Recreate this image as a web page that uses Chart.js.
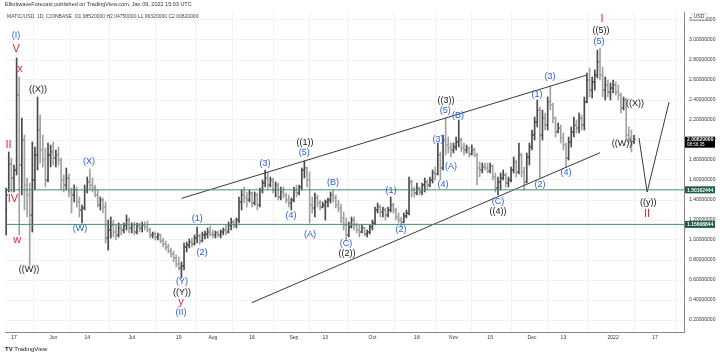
<!DOCTYPE html>
<html><head><meta charset="utf-8">
<script src="https://cdn.jsdelivr.net/npm/chart.js@4/dist/chart.umd.min.js"></script>
<style>
html,body{margin:0;padding:0;background:#fff;width:720px;height:357px;overflow:hidden;font-family:'Liberation Sans',Arial,sans-serif}
#wrap{position:relative;width:720px;height:357px}
#c{position:absolute;left:0;top:0}
#h1{position:absolute;left:5px;top:1px;font-size:5.5px;color:#333;white-space:nowrap}
#h2{position:absolute;left:7px;top:13px;font-size:5px;color:#444;white-space:nowrap}
#ft{position:absolute;left:5px;top:346px;font-size:6px;color:#222;white-space:nowrap}
</style></head>
<body><div id="wrap">
<canvas id="c" width="720" height="357"></canvas>
<div id="h1">ElliottwaveForecast published on TradingView.com, Jan 09, 2022 15:03 UTC</div>
<div id="h2">MATIC/USD, 1D, COINBASE&nbsp; O1.98520000 H2.04750000 L1.96320000 C2.00820000</div>
<div id="ft"><b>TV</b> TradingView</div>
</div>
<script>
// day index 0 = 17 May 2021; first bar is day -3 (14 May 2021)
const firstDay = -3;
// [open, high, low, close] per daily bar
const ohlc = [
[1.30,1.52,1.05,1.45],[1.50,1.88,1.48,1.76],[1.76,1.82,1.48,1.62],[1.62,1.75,1.48,1.70],
[1.70,2.82,1.65,2.45],[2.45,2.63,1.05,1.75],[1.75,2.22,1.45,2.00],[2.00,2.05,1.30,1.55],
[1.55,1.62,1.23,1.45],[1.45,1.57,0.75,1.25],[1.25,1.98,1.08,1.60],[1.60,1.93,1.50,1.85],
[1.85,2.43,1.70,2.10],[2.10,2.25,1.77,1.90],[1.90,2.05,1.73,1.80],[1.80,1.92,1.53,1.60],
[1.60,1.97,1.58,1.85],[1.85,1.95,1.73,1.88],[1.88,1.98,1.75,1.82],[1.82,1.90,1.73,1.85],
[1.85,1.93,1.75,1.80],[1.80,1.82,1.50,1.60],[1.60,1.65,1.48,1.55],[1.55,1.72,1.50,1.62],
[1.62,1.66,1.43,1.48],[1.48,1.52,1.27,1.45],[1.45,1.55,1.38,1.50],[1.50,1.53,1.33,1.38],
[1.38,1.43,1.23,1.30],[1.30,1.35,1.17,1.32],[1.32,1.55,1.30,1.50],[1.50,1.63,1.47,1.58],
[1.58,1.71,1.50,1.55],[1.55,1.62,1.48,1.52],[1.52,1.55,1.43,1.45],[1.45,1.50,1.33,1.35],
[1.35,1.43,1.30,1.40],[1.40,1.42,1.27,1.33],[1.33,1.38,0.97,1.02],[1.02,1.20,0.90,1.10],
[1.10,1.23,1.02,1.15],[1.15,1.20,1.03,1.08],[1.08,1.15,1.00,1.05],[1.05,1.17,1.03,1.12],
[1.12,1.15,1.05,1.10],[1.10,1.17,1.07,1.15],[1.15,1.25,1.10,1.20],[1.20,1.22,1.07,1.12],
[1.12,1.17,1.07,1.15],[1.15,1.18,1.05,1.08],[1.08,1.17,1.06,1.14],[1.14,1.17,1.08,1.12],
[1.12,1.18,1.08,1.15],[1.15,1.18,1.10,1.13],[1.13,1.19,1.08,1.10],[1.10,1.12,1.02,1.05],
[1.05,1.08,1.02,1.06],[1.06,1.08,1.00,1.03],[1.03,1.07,1.00,1.05],[1.05,1.06,0.97,0.99],
[0.99,1.02,0.93,0.96],[0.96,0.99,0.90,0.93],[0.93,0.96,0.87,0.89],[0.89,0.92,0.83,0.86],
[0.86,0.89,0.78,0.82],[0.82,0.85,0.73,0.76],[0.76,0.83,0.70,0.72],[0.72,0.78,0.62,0.74],
[0.74,0.97,0.70,0.93],[0.93,0.98,0.88,0.95],[0.95,1.01,0.92,0.98],[0.98,1.02,0.93,0.96],
[0.96,1.05,0.95,1.02],[1.02,1.13,0.97,1.04],[1.04,1.06,0.96,0.99],[0.99,1.08,0.98,1.05],
[1.05,1.09,1.01,1.06],[1.06,1.12,1.02,1.08],[1.08,1.14,1.04,1.06],[1.06,1.10,1.02,1.05],
[1.05,1.09,1.02,1.07],[1.07,1.09,1.03,1.05],[1.05,1.10,1.02,1.08],[1.08,1.12,1.05,1.10],
[1.10,1.15,1.05,1.08],[1.08,1.18,1.07,1.15],[1.15,1.22,1.10,1.18],[1.18,1.20,1.12,1.15],
[1.15,1.22,1.12,1.20],[1.20,1.43,1.17,1.38],[1.38,1.50,1.30,1.45],[1.45,1.53,1.37,1.42],
[1.42,1.48,1.33,1.40],[1.40,1.50,1.38,1.47],[1.47,1.48,1.33,1.37],[1.37,1.48,1.35,1.45],
[1.45,1.47,1.30,1.35],[1.35,1.52,1.33,1.50],[1.50,1.60,1.47,1.57],[1.57,1.70,1.53,1.62],
[1.62,1.67,1.50,1.55],[1.55,1.63,1.53,1.60],[1.60,1.62,1.47,1.50],[1.50,1.58,1.43,1.55],
[1.55,1.57,1.40,1.43],[1.43,1.53,1.40,1.48],[1.48,1.53,1.42,1.45],[1.45,1.47,1.37,1.40],
[1.40,1.45,1.33,1.37],[1.37,1.42,1.30,1.40],[1.40,1.53,1.38,1.50],[1.50,1.55,1.43,1.47],
[1.47,1.55,1.45,1.53],[1.53,1.72,1.50,1.70],[1.70,1.79,1.62,1.72],[1.72,1.73,1.53,1.60],
[1.60,1.68,1.17,1.35],[1.35,1.43,1.27,1.32],[1.32,1.47,1.23,1.42],[1.42,1.45,1.33,1.37],
[1.37,1.40,1.30,1.33],[1.33,1.38,1.32,1.35],[1.35,1.40,1.20,1.38],[1.38,1.42,1.33,1.40],
[1.40,1.48,1.37,1.45],[1.45,1.50,1.38,1.42],[1.42,1.45,1.32,1.35],[1.35,1.40,1.28,1.32],
[1.32,1.36,1.17,1.22],[1.22,1.28,1.10,1.15],[1.15,1.22,1.00,1.05],[1.05,1.18,1.03,1.13],
[1.13,1.23,1.12,1.20],[1.20,1.23,1.10,1.15],[1.15,1.17,1.07,1.10],[1.10,1.15,1.03,1.08],
[1.08,1.15,1.07,1.12],[1.12,1.13,1.04,1.06],[1.06,1.10,1.03,1.08],[1.08,1.15,1.06,1.13],
[1.13,1.20,1.10,1.17],[1.17,1.33,1.15,1.30],[1.30,1.37,1.27,1.33],[1.33,1.35,1.23,1.28],
[1.28,1.33,1.23,1.30],[1.30,1.32,1.20,1.25],[1.25,1.33,1.23,1.30],[1.30,1.43,1.28,1.35],
[1.35,1.37,1.27,1.30],[1.30,1.32,1.20,1.23],[1.23,1.27,1.17,1.20],[1.20,1.23,1.13,1.18],
[1.18,1.27,1.17,1.24],[1.24,1.30,1.22,1.27],[1.27,1.63,1.25,1.58],[1.58,1.60,1.43,1.50],
[1.50,1.53,1.43,1.47],[1.47,1.57,1.45,1.52],[1.52,1.53,1.45,1.48],[1.48,1.57,1.45,1.55],
[1.55,1.62,1.48,1.58],[1.58,1.60,1.50,1.55],[1.55,1.63,1.53,1.60],[1.60,1.70,1.57,1.67],
[1.67,1.73,1.60,1.66],[1.66,1.97,1.65,1.85],[1.85,1.88,1.60,1.72],[1.72,2.05,1.70,2.00],
[2.00,2.22,1.85,1.95],[1.95,2.03,1.87,1.92],[1.92,1.97,1.83,1.90],[1.90,1.97,1.87,1.93],
[1.93,2.03,1.90,1.98],[1.98,2.20,1.93,2.00],[2.00,2.02,1.88,1.92],[1.92,1.97,1.85,1.90],
[1.90,1.95,1.87,1.92],[1.92,1.93,1.83,1.86],[1.86,1.95,1.85,1.90],[1.90,1.92,1.83,1.85],
[1.85,1.87,1.55,1.72],[1.72,1.78,1.63,1.70],[1.70,1.77,1.67,1.73],[1.73,1.77,1.70,1.72],
[1.72,1.77,1.67,1.69],[1.69,1.77,1.67,1.74],[1.74,1.75,1.60,1.63],[1.63,1.67,1.48,1.52],
[1.52,1.63,1.45,1.58],[1.58,1.67,1.50,1.62],[1.62,1.70,1.60,1.65],[1.65,1.67,1.53,1.57],
[1.57,1.63,1.53,1.60],[1.60,1.73,1.58,1.70],[1.70,1.83,1.67,1.78],[1.78,1.80,1.63,1.68],
[1.68,1.97,1.66,1.85],[1.85,1.87,1.63,1.68],[1.68,1.73,1.50,1.58],[1.58,1.87,1.57,1.83],
[1.83,1.97,1.75,1.93],[1.93,2.10,1.90,2.05],[2.05,2.23,2.00,2.18],[2.18,2.40,2.13,2.30],
[2.30,2.33,1.62,2.05],[2.05,2.30,2.00,2.22],[2.22,2.27,2.10,2.15],[2.15,2.43,2.10,2.38],
[2.38,2.54,2.30,2.35],[2.35,2.37,2.17,2.22],[2.22,2.23,2.03,2.08],[2.08,2.17,2.07,2.12],
[2.12,2.15,1.97,2.02],[2.02,2.07,1.90,1.95],[1.95,1.97,1.73,1.82],[1.82,2.03,1.80,1.98],
[1.98,2.13,1.93,2.08],[2.08,2.23,2.03,2.15],[2.15,2.20,2.07,2.12],[2.12,2.27,2.07,2.22],
[2.22,2.25,2.10,2.15],[2.15,2.43,2.10,2.38],[2.38,2.67,2.37,2.60],[2.60,2.72,2.43,2.50],
[2.50,2.63,2.42,2.58],[2.58,2.70,2.50,2.65],[2.65,2.90,2.62,2.78],[2.78,2.92,2.60,2.65],
[2.65,2.73,2.43,2.50],[2.50,2.63,2.40,2.55],[2.55,2.60,2.43,2.48],[2.48,2.57,2.40,2.52],
[2.52,2.60,2.47,2.55],[2.55,2.58,2.45,2.48],[2.48,2.55,2.40,2.45],[2.45,2.47,2.27,2.32],
[2.32,2.43,2.30,2.40],[2.40,2.42,2.00,2.05],[2.05,2.13,1.97,2.02],[2.02,2.10,1.88,1.96],
[1.9852,2.0475,1.9632,2.0082]
];
const xTickDays   = [0,15,28,45,63,76,91,107,119,137,154,168,182,198,210,229,245];
const xTickLabels = ['17','Jun','14','Jul','19','Aug','16','Sep','13','Oct','18','Nov','15','Dec','13','2022','17'];
const yTicks = [0.2,0.4,0.6,0.8,1.0,1.2,1.4,1.6,1.8,2.0,2.2,2.4,2.6,2.8,3.0,3.2];
const levels = [1.50162444, 1.15608844];
const lastPrice = 2.0082;
const countdown = '08:56:35';
const upperChannel = [[64.1,1.417],[219.0,2.65]];
const lowerChannel = [[90.9,0.373],[224.0,1.873]];
const projection = [[238.9,2.02],[242.0,1.48],[250.4,2.38]];
// wave labels: text, day, price, kind
const waveText  = ['(I)','V','x','((X))','III','IV','w','((W))','(X)','(W)',
 '(Y)','((Y))','y','(II)','(1)','(2)','(3)','(4)','((1))','(5)','(B)','(A)',
 '(C)','((2))','(1)','(2)','(4)','(3)','(5)','((3))','(B)','(A)','(C)','((4))',
 'I','((5))','(5)','(1)','(3)','(2)','(4)','((X))','((W))','((y))','II'];
const waveDay   = [0.8,0.8,2.3,9.2,-2.7,-0.4,1.2,5.7,28.7,25.2,
 64.2,64.2,63.8,63.8,70.0,71.9,95.9,105.9,111.2,110.9,121.9,113.1,
 126.9,127.3,144.1,147.9,164.0,162.1,164.8,165.1,169.7,167.0,185.0,185.0,
 224.8,224.4,223.6,199.9,204.9,201.1,211.0,237.4,232.4,242.4,242.0];
const wavePrice = [3.04,2.91,2.71,2.50,1.95,1.41,1.00,0.70,1.78,1.11,
 0.58,0.47,0.38,0.27,1.21,0.87,1.76,1.24,1.97,1.87,1.57,1.05,
 0.96,0.86,1.49,1.10,1.55,2.00,2.29,2.39,2.24,1.73,1.38,1.28,
 3.21,3.09,2.98,2.45,2.63,1.55,1.67,2.36,1.96,1.37,1.26];
const waveKind  = ['b','r','r','k','r','r','r','k','b','b',
 'b','k','r','b','b','b','b','b','k','b','b','b',
 'b','k','b','b','b','b','b','k','b','b','b','k',
 'r','k','b','b','b','b','b','k','k','k','r'];

const X_MIN = -3.44, X_MAX = 256.1, Y_MIN = 0.08, Y_MAX = 3.28;
const UP = '#4a4a4a', DOWN = '#a2a2a2';
const kindColor = {b:'#2a5be0', k:'#161616', r:'#e8262a'};

const barData = ohlc.map((r,i)=>({x:firstDay+i, y:[r[2],r[1]], o:r[0], c:r[3]}));
const openPts = ohlc.map((r,i)=>({x:firstDay+i-0.4, y:r[0], up:r[3]>=r[0]}));
const closePts = ohlc.map((r,i)=>({x:firstDay+i+0.4, y:r[3], up:r[3]>=r[0]}));
const toPts = a => a.map(p=>({x:p[0], y:p[1]}));

const wavePlugin = {
  id:'waves',
  afterDatasetsDraw(chart){
    const {ctx, scales:{x,y}, chartArea:a} = chart;
    ctx.save();
    ctx.beginPath(); ctx.rect(a.left,a.top,a.right-a.left,a.bottom-a.top); ctx.clip();
    ctx.textAlign='center'; ctx.textBaseline='middle';
    waveText.forEach((t,i)=>{
      const k = waveKind[i];
      ctx.font = k==='r' ? '11px "Liberation Sans"' : '9px "Liberation Sans"';
      ctx.fillStyle = kindColor[k];
      ctx.fillText(t, x.getPixelForValue(waveDay[i]), y.getPixelForValue(wavePrice[i]));
    });
    ctx.restore();
  },
  afterDraw(chart){
    const {ctx, scales:{y}, chartArea:a} = chart;
    ctx.save();
    ctx.textAlign='left'; ctx.textBaseline='middle';
    levels.forEach(v=>{
      const py = y.getPixelForValue(v);
      ctx.fillStyle='#1d5c48';
      ctx.fillRect(a.right+1, py-3.5, 30, 7);
      ctx.fillStyle='#fff'; ctx.font='bold 5px "Liberation Sans"';
      ctx.fillText(v.toFixed(8), a.right+3, py+0.3);
    });
    const py = y.getPixelForValue(lastPrice);
    ctx.fillStyle='#000';
    ctx.fillRect(a.right+1, py-2.5, 30, 11);
    ctx.fillStyle='#fff'; ctx.font='bold 5px "Liberation Sans"';
    ctx.fillText(lastPrice.toFixed(8), a.right+3, py+0.5);
    ctx.font='4.5px "Liberation Sans"';
    ctx.fillText(countdown, a.right+3, py+5.5);
    ctx.fillStyle='#fff'; ctx.fillRect(a.right+8, a.top+1.5, 14, 6);
    ctx.strokeStyle='#bbb'; ctx.lineWidth=0.5; ctx.strokeRect(a.right+8, a.top+1.5, 14, 6);
    ctx.fillStyle='#333'; ctx.font='5px "Liberation Sans"'; ctx.textAlign='center';
    ctx.fillText('USD', a.right+15, a.top+4.6);
    ctx.restore();
  }
};

const lineDs = (data,color,w)=>({type:'line', data, borderColor:color, borderWidth:w,
  pointRadius:0, fill:false, tension:0, order:0});

new Chart(document.getElementById('c'), {
  type:'bar',
  data:{datasets:[
    {type:'bar', data:barData, barThickness:1, grouped:false,
     backgroundColor: c => (c.raw && c.raw.c >= c.raw.o) ? UP : DOWN, order:3},
    {type:'line', data:openPts, showLine:false, pointStyle:'line', pointRadius:0.9,
     pointBorderWidth:1, pointBorderColor: c => (c.raw && c.raw.up) ? UP : DOWN, order:2},
    {type:'line', data:closePts, showLine:false, pointStyle:'line', pointRadius:0.9,
     pointBorderWidth:1, pointBorderColor: c => (c.raw && c.raw.up) ? UP : DOWN, order:2},
    lineDs([{x:X_MIN,y:levels[0]},{x:X_MAX,y:levels[0]}], '#3f8f74', 1),
    lineDs([{x:X_MIN,y:levels[1]},{x:X_MAX,y:levels[1]}], '#3f8f74', 1),
    lineDs(toPts(upperChannel), '#3a3a3a', 1),
    lineDs(toPts(lowerChannel), '#3a3a3a', 1),
    lineDs(toPts(projection), '#3a3a3a', 1)
  ]},
  options:{
    animation:false, responsive:false, devicePixelRatio:1,
    layout:{padding:{left:5, top:12, right:0, bottom:12}},
    plugins:{legend:{display:false}, tooltip:{enabled:false}},
    scales:{
      x:{type:'linear', min:X_MIN, max:X_MAX, offset:false,
        afterFit: s => { s.height = 13; },
        afterBuildTicks: s => { s.ticks = xTickDays.map(v=>({value:v})); },
        grid:{color:'#f2f2f2', drawTicks:false},
        border:{color:'#8a8a8a'},
        ticks:{autoSkip:false, maxRotation:0, padding:3, color:'#333',
          font:{size:5, family:'Liberation Sans'},
          callback:(v,i)=> xTickLabels[i]}
      },
      y:{type:'linear', position:'right', min:Y_MIN, max:Y_MAX,
        afterFit: s => { s.width = 36; },
        afterBuildTicks: s => { s.ticks = yTicks.map(v=>({value:v})); },
        grid:{color:'#f2f2f2', drawTicks:false},
        border:{color:'#8a8a8a'},
        ticks:{padding:5, color:'#333', font:{size:5, family:'Liberation Sans'},
          callback:v => Number(v).toFixed(8)}
      }
    }
  },
  plugins:[wavePlugin]
});
</script>
</body></html>
